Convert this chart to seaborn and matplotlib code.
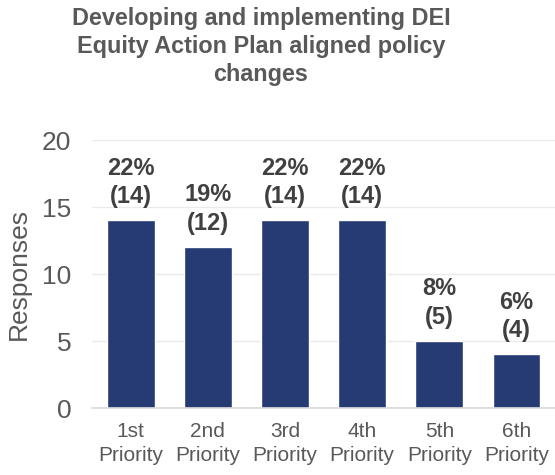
import matplotlib
matplotlib.use("Agg")
import matplotlib.pyplot as plt
import seaborn as sns
import pandas as pd

# chart data
categories = ["1st\nPriority", "2nd\nPriority", "3rd\nPriority", "4th\nPriority", "5th\nPriority", "6th\nPriority"]
responses = [14, 12, 14, 14, 5, 4]
percents = ["22%", "19%", "22%", "22%", "8%", "6%"]
title = "Developing and implementing DEI\nEquity Action Plan aligned policy\nchanges"

sns.set_style("white")
plt.rcParams["font.family"] = ["Liberation Sans", "DejaVu Sans"]

df = pd.DataFrame({"category": categories, "responses": responses})

fig = plt.figure(figsize=(5.55, 4.75), dpi=100)
ax = fig.add_axes([0.166, 0.141, 0.834, 0.564])

sns.barplot(data=df, x="category", y="responses", color="#263A73",
            width=0.62, saturation=1, ax=ax)

for i, (v, p) in enumerate(zip(responses, percents)):
    ax.annotate(f"{p}\n({v})", xy=(i, v), xytext=(0, 9), textcoords="offset points",
                ha="center", va="bottom", fontsize=17, fontweight="bold",
                color="#404040", linespacing=1.3)

ax.set_ylim(0, 20)
ax.set_yticks([0, 5, 10, 15, 20])
ax.yaxis.grid(True, color="#EBEBEB", linewidth=1)
ax.set_axisbelow(True)
ax.set_xlabel("")
ax.set_ylabel("Responses", fontsize=19, color="#595959", labelpad=8)
ax.tick_params(axis="y", labelsize=19, labelcolor="#595959", length=0, pad=15)
ax.tick_params(axis="x", labelsize=15, labelcolor="#595959", length=0, pad=10)
for lbl in ax.get_xticklabels():
    lbl.set_linespacing(1.35)

for s in ["top", "right", "left"]:
    ax.spines[s].set_visible(False)
ax.spines["bottom"].set_color("#D9D9D9")
ax.spines["bottom"].set_linewidth(1.2)

fig.text(0.47, 0.985, title, ha="center", va="top", fontsize=16.8, fontweight="bold",
         color="#595959", linespacing=1.27)

fig.savefig("out.png", dpi=100)
